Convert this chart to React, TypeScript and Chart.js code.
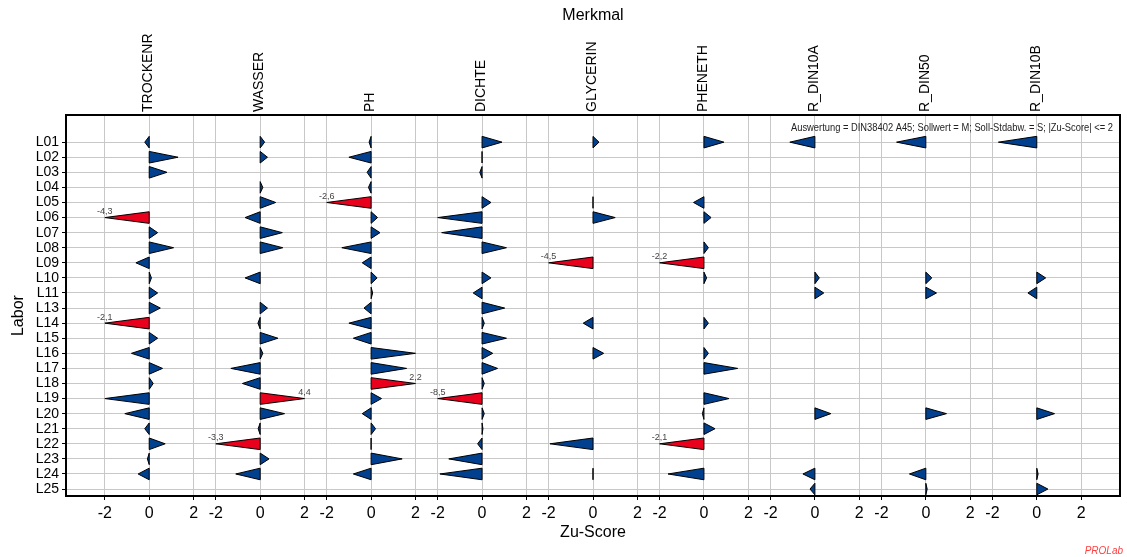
import { useEffect, useRef } from "react";
import { Chart, registerables } from "chart.js";

Chart.register(...registerables);

// Laboratories (rows) and characteristics (panels)
const labs = ["L01", "L02", "L03", "L04", "L05", "L06", "L07", "L08", "L09", "L10", "L11", "L13", "L14", "L15", "L16", "L17", "L18", "L19", "L20", "L21", "L22", "L23", "L24", "L25"];
const merkmale = ["TROCKENR", "WASSER", "PH", "DICHTE", "GLYCERIN", "PHENETH", "R_DIN10A", "R_DIN50", "R_DIN10B"];
const panelTicks = [-2, 0, 2];

// Zu-Scores per laboratory, one array per characteristic (null = no result)
const zTrockenr = [-0.2, 1.3, 0.8, null, null, -4.3, 0.38, 1.1, -0.6, 0.1, 0.38, 0.5, -2.1, 0.38, -0.8, 0.6, 0.18, -2.0, -1.1, -0.2, 0.72, -0.08, -0.5, null];
const zWasser = [0.2, 0.33, null, 0.12, 0.7, -0.68, 1.0, 1.02, null, -0.68, null, 0.33, -0.1, 0.8, 0.12, -1.32, -0.8, 4.4, 1.1, -0.09, -3.3, 0.4, -1.1, null];
const zPh = [-0.09, -1.0, -0.18, -0.12, -2.6, 0.29, 0.4, -1.32, -0.4, 0.27, 0.07, -0.32, -1.0, -0.8, 2.0, 1.6, 2.2, 0.47, -0.4, 0.2, 0.0, 1.4, -0.8, null];
const zDichte = [0.9, 0.0, -0.1, null, 0.4, -2.0, -1.82, 1.1, null, 0.4, -0.4, 1.02, 0.1, 1.1, 0.48, 0.7, 0.1, -8.5, 0.1, 0.04, -0.2, -1.5, -1.9, null];
const zGlycerin = [0.27, null, null, null, 0.0, 1.0, null, null, -4.5, null, null, null, -0.44, null, 0.48, null, null, null, null, null, -1.94, null, 0.0, null];
const zPheneth = [0.9, null, null, null, -0.47, 0.32, null, 0.2, -2.2, 0.12, null, null, 0.2, null, 0.2, 1.52, null, 1.13, -0.07, 0.5, -2.1, null, -1.62, null];
const zDin10a = [-1.13, null, null, null, null, null, null, null, null, 0.2, 0.4, null, null, null, null, null, null, null, 0.72, null, null, null, -0.54, -0.22];
const zDin50 = [-1.32, null, null, null, null, null, null, null, null, 0.27, 0.48, null, null, null, null, null, null, null, 0.93, null, null, null, -0.74, 0.06];
const zDin10b = [-1.73, null, null, null, null, null, null, null, null, 0.4, -0.4, null, null, null, null, null, null, null, 0.8, null, null, null, 0.06, 0.5];

const zSeries: (number | null)[][] = [zTrockenr, zWasser, zPh, zDichte, zGlycerin, zPheneth, zDin10a, zDin50, zDin10b];

const LIMIT = 2;
const PANEL_STEP = 5;
const TRI_HALF = 5.8;
const BLUE = "#00408f";
const RED = "#e8001c";
const FONT = "'Liberation Sans', Arial, Helvetica, sans-serif";
const NOTE = "Auswertung = DIN38402 A45; Sollwert = M; Soll-Stdabw. = S; |Zu-Score| <= 2";

const clampZ = (v: number) => Math.max(-LIMIT, Math.min(LIMIT, v));
const fmt = (v: number) => v.toFixed(1).replace(".", ",");

const zuScorePlugin = {
  id: "zuScoreArrows",
  beforeDraw(chart: any) {
    const { ctx, width, height } = chart;
    ctx.save();
    ctx.fillStyle = "#ffffff";
    ctx.fillRect(0, 0, width, height);
    ctx.restore();
  },
  afterDatasetsDraw(chart: any) {
    const { ctx } = chart;
    const x = chart.scales.x;
    const y = chart.scales.y;
    ctx.save();
    ctx.lineJoin = "round";
    zSeries.forEach((series, k) => {
      const base = x.getPixelForValue(k * PANEL_STEP);
      series.forEach((v, i) => {
        if (v === null) return;
        const tip = x.getPixelForValue(k * PANEL_STEP + clampZ(v));
        const cy = y.getPixelForValue(i);
        const out = Math.abs(v) > LIMIT;
        ctx.beginPath();
        ctx.moveTo(base, cy - TRI_HALF);
        ctx.lineTo(tip, cy);
        ctx.lineTo(base, cy + TRI_HALF);
        ctx.closePath();
        ctx.fillStyle = out ? RED : BLUE;
        ctx.fill();
        ctx.lineWidth = 1;
        ctx.strokeStyle = "#000000";
        ctx.stroke();
        if (out) {
          ctx.fillStyle = "#444444";
          ctx.font = `9px ${FONT}`;
          ctx.textAlign = "center";
          ctx.textBaseline = "bottom";
          ctx.fillText(fmt(v), tip, cy - 1.5);
        }
      });
    });
    ctx.restore();
  },
  afterDraw(chart: any) {
    const { ctx, chartArea } = chart;
    const x = chart.scales.x;
    const y = chart.scales.y;
    const { left, top, right, bottom } = chartArea;
    ctx.save();

    // frame
    ctx.strokeStyle = "#000000";
    ctx.lineWidth = 2;
    ctx.strokeRect(left, top, right - left, bottom - top);

    // characteristic names above each panel
    ctx.fillStyle = "#000000";
    ctx.font = `14px ${FONT}`;
    ctx.textAlign = "left";
    ctx.textBaseline = "middle";
    merkmale.forEach((name, k) => {
      const px = x.getPixelForValue(k * PANEL_STEP);
      ctx.save();
      ctx.translate(px - 1, top - 3);
      ctx.rotate(-Math.PI / 2);
      ctx.fillText(name, 0, 0);
      ctx.restore();
    });

    // top title
    ctx.font = `16px ${FONT}`;
    ctx.textAlign = "center";
    ctx.textBaseline = "middle";
    ctx.fillText("Merkmal", (left + right) / 2, 16);

    // y title
    ctx.save();
    ctx.translate(19, (y.getPixelForValue(0) + y.getPixelForValue(labs.length - 1)) / 2);
    ctx.rotate(-Math.PI / 2);
    ctx.fillText("Labor", 0, 0);
    ctx.restore();

    // evaluation note
    ctx.fillStyle = "#222222";
    ctx.font = `10px ${FONT}`;
    ctx.textAlign = "right";
    ctx.textBaseline = "middle";
    ctx.fillText(NOTE, right - 7, top + 13, 322);

    // software mark
    ctx.fillStyle = "#ff4040";
    ctx.font = `italic 10px ${FONT}`;
    ctx.textAlign = "right";
    ctx.textBaseline = "middle";
    ctx.fillText("PROLab", 1123, 551);

    ctx.restore();
  },
};

export default function App() {
  const canvasRef = useRef<HTMLCanvasElement | null>(null);

  useEffect(() => {
    const canvas = canvasRef.current;
    if (!canvas) return;

    const datasets = zSeries.map((series, k) => ({
      label: merkmale[k],
      data: series
        .map((v, i) => (v === null ? null : { x: k * PANEL_STEP + clampZ(v), y: i }))
        .filter((p) => p !== null),
      pointRadius: 0,
      pointHoverRadius: 0,
      showLine: false,
    }));

    const chart = new Chart(canvas, {
      type: "scatter",
      data: { datasets: datasets as any },
      options: {
        responsive: false,
        animation: false,
        devicePixelRatio: 1,
        events: [],
        layout: { padding: { left: 0, right: 7, top: 115, bottom: 0 } },
        plugins: {
          legend: { display: false },
          tooltip: { enabled: false },
        },
        scales: {
          x: {
            type: "linear",
            position: "bottom",
            min: -3.75,
            max: (merkmale.length - 1) * PANEL_STEP + 3.75,
            afterBuildTicks: (scale: any) => {
              scale.ticks = merkmale.flatMap((_, k) =>
                panelTicks.map((t) => ({ value: k * PANEL_STEP + t }))
              );
            },
            afterFit: (scale: any) => {
              scale.height = 61;
            },
            ticks: {
              autoSkip: false,
              maxRotation: 0,
              minRotation: 0,
              padding: 4,
              color: "#000000",
              font: { family: FONT, size: 16 },
              callback: (value: any) => {
                const k = Math.round(Number(value) / PANEL_STEP);
                const local = Math.round(Number(value) - k * PANEL_STEP);
                return String(local);
              },
            },
            grid: {
              color: "#c8c8c8",
              lineWidth: 1,
              drawTicks: true,
              tickLength: 4,
              tickColor: "#000000",
            },
            border: { display: false },
            title: {
              display: true,
              text: "Zu-Score",
              color: "#000000",
              font: { family: FONT, size: 16 },
              padding: { top: 0, bottom: 14.4 },
            },
          },
          y: {
            type: "linear",
            position: "left",
            reverse: true,
            min: -1.8,
            max: 23.46,
            afterBuildTicks: (scale: any) => {
              scale.ticks = labs.map((_, i) => ({ value: i }));
            },
            afterFit: (scale: any) => {
              scale.width = 66;
            },
            ticks: {
              autoSkip: false,
              padding: 3,
              color: "#000000",
              font: { family: FONT, size: 14 },
              callback: (value: any) => labs[Math.round(Number(value))] ?? "",
            },
            grid: {
              color: "#c8c8c8",
              lineWidth: 1,
              drawTicks: true,
              tickLength: 4,
              tickColor: "#000000",
            },
            border: { display: false },
          },
        },
      },
      plugins: [zuScorePlugin],
    });

    return () => chart.destroy();
  }, []);

  return (
    <div style={{ position: "absolute", left: 0, top: 0, width: 1127, height: 557, background: "#ffffff" }}>
      <canvas ref={canvasRef} width={1127} height={557} style={{ display: "block" }} />
    </div>
  );
}
